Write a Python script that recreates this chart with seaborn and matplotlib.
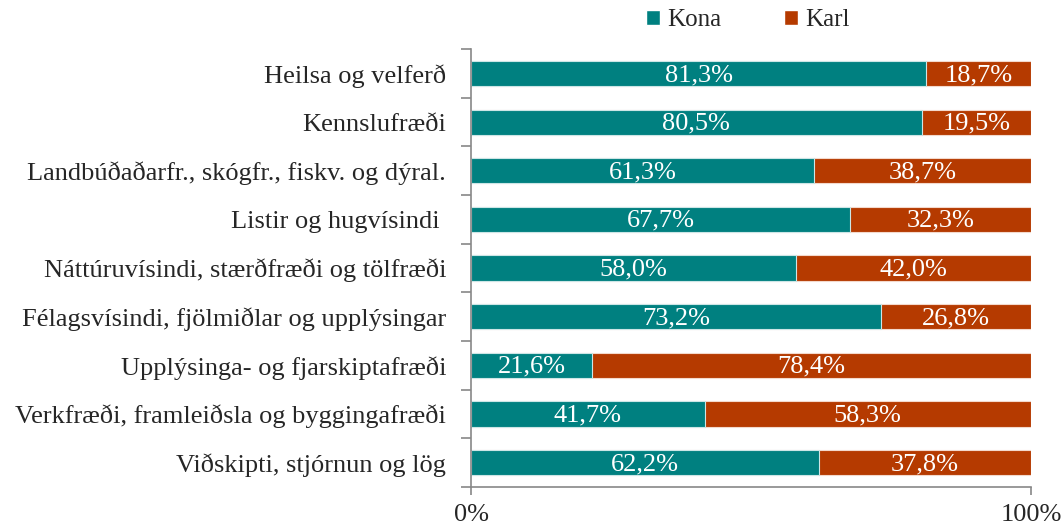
import matplotlib
matplotlib.use("Agg")
import matplotlib.pyplot as plt
import seaborn as sns
import pandas as pd
from matplotlib.patches import Patch

categories = [
    "Heilsa og velferð",
    "Kennslufræði",
    "Landbúðaðarfr., skógfr., fiskv. og dýral.",
    "Listir og hugvísindi ",
    "Náttúruvísindi, stærðfræði og tölfræði",
    "Félagsvísindi, fjölmiðlar og upplýsingar",
    "Upplýsinga- og fjarskiptafræði",
    "Verkfræði, framleiðsla og byggingafræði",
    "Viðskipti, stjórnun og lög",
]
kona = [81.3, 80.5, 61.3, 67.7, 58.0, 73.2, 21.6, 41.7, 62.2]
karl = [18.7, 19.5, 38.7, 32.3, 42.0, 26.8, 78.4, 58.3, 37.8]
series_names = ["Kona", "Karl"]
x_ticks = [0, 100]
x_ticklabels = ["0%", "100%"]

teal = "#008080"
rust = "#B53A00"

sns.set_style("white")
plt.rcParams["font.family"] = ["Liberation Serif", "DejaVu Serif"]

df = pd.DataFrame({"cat": categories, "kona": kona, "karl": karl})
df["total"] = df["kona"] + df["karl"]

fig = plt.figure(figsize=(10.64, 5.29), dpi=100)
ax = fig.add_axes([0.4427, 0.0794, 0.9690 - 0.4427, 0.907 - 0.0794])

sns.barplot(data=df, y="cat", x="total", color=rust, orient="h", width=0.52,
            edgecolor="#f3d9cc", linewidth=0.8, ax=ax, saturation=1)
sns.barplot(data=df, y="cat", x="kona", color=teal, orient="h", width=0.52,
            edgecolor="#cce6e6", linewidth=0.8, ax=ax, saturation=1)

fs = 19
for i, (k, m) in enumerate(zip(kona, karl)):
    ax.text(k / 2, i + 0.03, f"{k:.1f}%".replace(".", ","), ha="center", va="center",
            color="white", fontsize=fs)
    ax.text(k + m / 2, i + 0.03, f"{m:.1f}%".replace(".", ","), ha="center", va="center",
            color="white", fontsize=fs)

ax.set_xlim(0, 100)
ax.set_ylim(len(categories) - 0.5, -0.5)
ax.set_xlabel("")
ax.set_ylabel("")
ax.set_xticks(x_ticks)
ax.set_xticklabels(x_ticklabels, fontsize=fs)
ax.tick_params(axis="x", bottom=True, direction="out", length=6, color="#888888",
               width=1.2, pad=6)
ax.set_yticks(range(len(categories)))
ax.set_yticklabels(categories, fontsize=fs)
ax.tick_params(axis="y", which="major", length=0, pad=18)
ax.set_yticks([i - 0.5 for i in range(len(categories) + 1)], minor=True)
ax.tick_params(axis="y", which="minor", left=True, direction="out", length=7,
               color="#888888", width=1.2)

for s in ["top", "right"]:
    ax.spines[s].set_visible(False)
for s in ["left", "bottom"]:
    ax.spines[s].set_color("#888888")
    ax.spines[s].set_linewidth(1.2)

handles = [Patch(facecolor=teal, label=series_names[0]),
           Patch(facecolor=rust, label=series_names[1])]
fig.legend(handles=handles, loc="center", bbox_to_anchor=(0.703, 0.962), ncol=2,
           frameon=False, prop={"size": 18},
           handlelength=0.56, handleheight=0.56, handletextpad=0.3, columnspacing=2.5,
           borderpad=0, borderaxespad=0)

fig.savefig("out.png", dpi=100)
